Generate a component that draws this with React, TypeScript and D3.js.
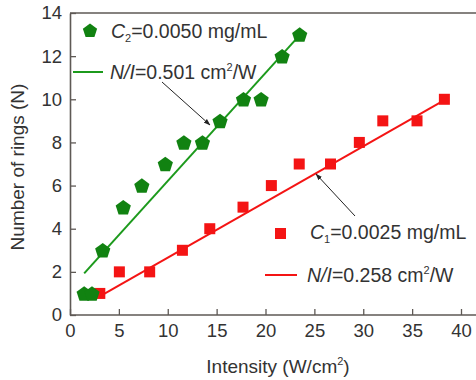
import { useEffect, useRef } from "react";
import * as d3 from "d3";

// intensity (W/cm2) and number of rings, C2 = 0.0050 mg/mL
const greenI = [1.45, 2.25, 3.35, 5.45, 7.35, 9.75, 11.65, 13.55, 15.35, 17.75, 19.55, 21.7, 23.5];
const greenN = [1, 1, 3, 5, 6, 7, 8, 8, 9, 10, 10, 12, 13];
// C1 = 0.0025 mg/mL
const redI = [3.05, 5.05, 8.15, 11.5, 14.3, 17.7, 20.6, 23.45, 26.65, 29.6, 32.0, 35.5, 38.3];
const redN = [1, 2, 2, 3, 4, 5, 6, 7, 7, 8, 9, 9, 10];

// fitted lines: start I, end I, slope, intercept
const greenFit = { from: 1.45, to: 23.5, slope: 0.501, b: 1.2 };
const redFit = { from: 3.0, to: 38.3, slope: 0.258, b: 0.08 };

const xTicks = [0, 5, 10, 15, 20, 25, 30, 35, 40];
const yTicks = [0, 2, 4, 6, 8, 10, 12, 14];

const GREEN = "#118211";
const GREEN_LINE = "#1c9a1c";
const RED = "#f41414";
const TEXT = "#333";
const AXIS = "#5e5955";
const FONT = "Liberation Sans, Arial, sans-serif";

const pent = (r: number) => {
  const pts = d3.range(5).map((i) => {
    const a = -Math.PI / 2 + (i * 2 * Math.PI) / 5;
    return [r * Math.cos(a), r * Math.sin(a)];
  });
  return "M" + pts.map((p) => p.join(",")).join("L") + "Z";
};

const App = () => {
  const svgRef = useRef<SVGSVGElement | null>(null);

  useEffect(() => {
    const W = 476, H = 380;
    const x = d3.scaleLinear().domain([0, 40]).range([70, 461]);
    const y = d3.scaleLinear().domain([0, 14]).range([315, 13]);

    const svg = d3.select(svgRef.current).attr("width", W).attr("height", H);
    svg.selectAll("*").remove();

    svg.append("defs").append("marker")
      .attr("id", "arr")
      .attr("viewBox", "0 0 10 10")
      .attr("refX", 9).attr("refY", 5)
      .attr("markerWidth", 7).attr("markerHeight", 7)
      .attr("orient", "auto")
      .append("path").attr("d", "M0,1.5 L10,5 L0,8.5 Z").attr("fill", "#222");

    // frame: top line + axes
    svg.append("line").attr("x1", x(0)).attr("x2", W).attr("y1", y(14)).attr("y2", y(14))
      .attr("stroke", AXIS).attr("stroke-width", 1.6);

    const xAxis = svg.append("g").attr("transform", `translate(0,${y(0)})`)
      .call(d3.axisBottom(x).tickValues(xTicks).tickSize(-6).tickPadding(9).tickSizeOuter(0));
    xAxis.select(".domain").attr("d", `M${x(0)},0H${W}`);
    const yAxis = svg.append("g").attr("transform", `translate(${x(0)},0)`)
      .call(d3.axisLeft(y).tickValues(yTicks).tickSize(-6).tickPadding(8).tickSizeOuter(0));
    [xAxis, yAxis].forEach((g) => {
      g.select(".domain").attr("stroke", AXIS).attr("stroke-width", 1.6);
      g.selectAll(".tick line").attr("stroke", AXIS).attr("stroke-width", 1.3);
      g.selectAll(".tick text").attr("fill", TEXT).style("font-family", FONT).style("font-size", "18.5px");
    });
    xAxis.selectAll(".tick text").attr("dy", "0.71em");

    // fitted lines
    const fit = (f: typeof greenFit, c: string) =>
      svg.append("line")
        .attr("x1", x(f.from)).attr("y1", y(f.slope * f.from + f.b))
        .attr("x2", x(f.to)).attr("y2", y(f.slope * f.to + f.b))
        .attr("stroke", c).attr("stroke-width", 2);
    fit(greenFit, GREEN_LINE);
    fit(redFit, RED);

    svg.append("g").selectAll("rect").data(redI).enter().append("rect")
      .attr("x", (d) => x(d) - 5.5)
      .attr("y", (_, i) => y(redN[i]) - 5.5)
      .attr("width", 11).attr("height", 11).attr("fill", RED);

    svg.append("g").selectAll("path").data(greenI).enter().append("path")
      .attr("d", pent(8))
      .attr("transform", (d, i) => `translate(${x(d)},${y(greenN[i]) + 0.8})`)
      .attr("fill", GREEN);

    // legends
    const legendText = (tx: number, ty: number, sub: string, val: string) => {
      const t = svg.append("text").attr("x", tx).attr("y", ty).attr("fill", TEXT)
        .style("font-family", FONT).style("font-size", "19.5px");
      t.append("tspan").attr("font-style", "italic").text("C");
      t.append("tspan").attr("font-size", "11px").attr("dy", 4).text(sub);
      t.append("tspan").attr("dy", -4).text(`=${val} mg/mL`);
    };
    const fitText = (tx: number, ty: number, val: string) => {
      const t = svg.append("text").attr("x", tx).attr("y", ty).attr("fill", TEXT)
        .style("font-family", FONT).style("font-size", "19.5px");
      t.append("tspan").attr("font-style", "italic").text("N/I");
      t.append("tspan").text(`=${val} cm`);
      t.append("tspan").attr("font-size", "11px").attr("dy", -8).text("2");
      t.append("tspan").attr("dy", 8).text("/W");
    };

    svg.append("path").attr("d", pent(7.5)).attr("transform", "translate(90,31)").attr("fill", GREEN);
    legendText(111, 38, "2", "0.0050");
    svg.append("line").attr("x1", 73).attr("x2", 103).attr("y1", 72).attr("y2", 72)
      .attr("stroke", GREEN_LINE).attr("stroke-width", 2);
    fitText(110, 79, "0.501");

    svg.append("rect").attr("x", 275).attr("y", 228).attr("width", 11).attr("height", 11).attr("fill", RED);
    legendText(310, 239, "1", "0.0025");
    svg.append("line").attr("x1", 265).attr("x2", 297).attr("y1", 275).attr("y2", 275)
      .attr("stroke", RED).attr("stroke-width", 2);
    fitText(307, 282, "0.258");

    // arrows
    svg.append("line").attr("x1", 162).attr("y1", 82).attr("x2", 210).attr("y2", 125)
      .attr("stroke", "#222").attr("stroke-width", 1).attr("marker-end", "url(#arr)");
    svg.append("line").attr("x1", 355).attr("y1", 216).attr("x2", 316).attr("y2", 174)
      .attr("stroke", "#222").attr("stroke-width", 1).attr("marker-end", "url(#arr)");

    // axis titles
    svg.append("text").attr("x", 278).attr("y", 373).attr("text-anchor", "middle").attr("fill", TEXT)
      .style("font-family", FONT).style("font-size", "19px")
      .call((t) => {
        t.append("tspan").text("Intensity (W/cm");
        t.append("tspan").attr("font-size", "11px").attr("dy", -8).text("2");
        t.append("tspan").attr("dy", 8).text(")");
      });
    svg.append("text").attr("transform", "translate(24,167) rotate(-90)").attr("text-anchor", "middle")
      .attr("fill", TEXT).style("font-family", FONT).style("font-size", "19px")
      .text("Number of rings (N)");
  }, []);

  return <svg ref={svgRef} style={{ position: "absolute", left: 0, top: 0 }} />;
};

export default App;
